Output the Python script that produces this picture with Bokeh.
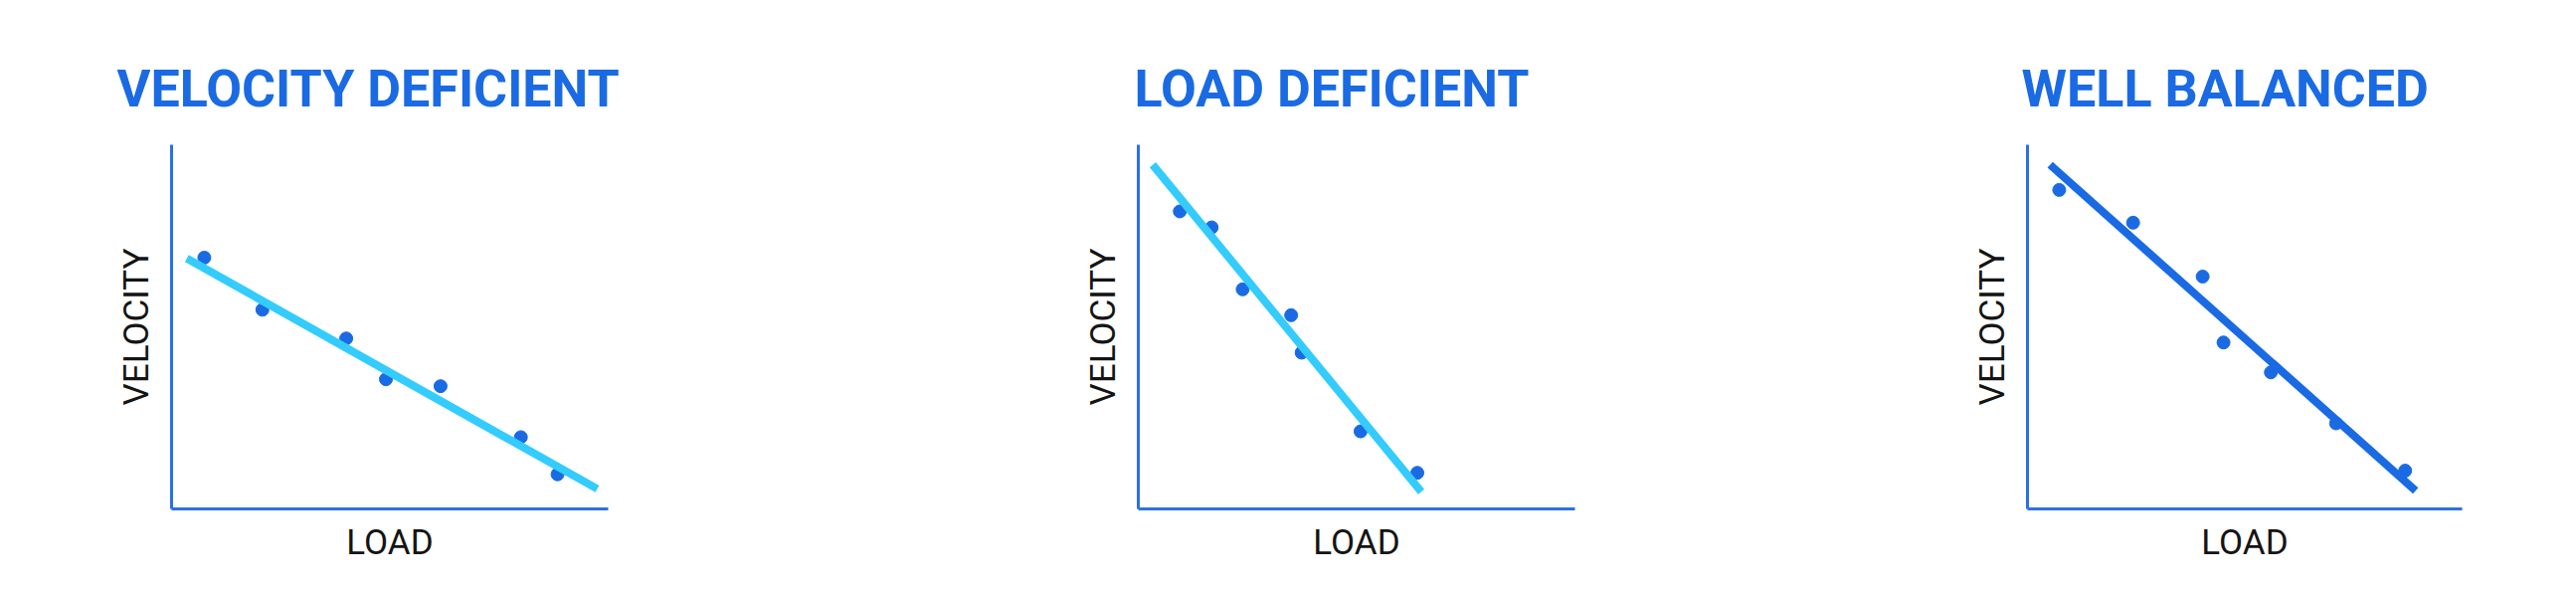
from bokeh.plotting import figure
from bokeh.layouts import row
from bokeh.models import Range1d, FixedTicker
from bokeh.embed import file_html
from bokeh.resources import INLINE

# ---- data ----
titles = ["VELOCITY DEFICIENT", "LOAD DEFICIENT", "WELL BALANCED"]
x_label = "LOAD"
y_label = "VELOCITY"

vd_load = [0.75, 2.08, 4.00, 4.91, 6.16, 8.00, 8.84]
vd_vel = [6.90, 5.47, 4.68, 3.56, 3.37, 1.97, 0.95]
vd_fit_load = [0.35, 9.75]
vd_fit_vel = [6.88, 0.55]

ld_load = [0.95, 1.68, 2.39, 3.50, 3.74, 5.09, 6.39]
ld_vel = [8.17, 7.73, 6.03, 5.32, 4.29, 2.13, 0.99]
ld_fit_load = [0.33, 6.48]
ld_fit_vel = [9.45, 0.47]

wb_load = [0.73, 2.43, 4.03, 4.51, 5.60, 7.10, 8.69]
wb_vel = [8.76, 7.86, 6.38, 4.57, 3.75, 2.35, 1.05]
wb_fit_load = [0.52, 8.93]
wb_fit_vel = [9.45, 0.50]

# ---- styles ----
BLUE = "#1a6ae4"
CYAN = "#33ccfd"
AXIS = "#2a70e6"
TEXT = "#141414"

TOP = 145
FRAME_H = 366
BOTTOM = 78


def panel(title, xs, ys, fx, fy, fit_color, fw, left, right, title_offset):
    p = figure(frame_width=fw, frame_height=FRAME_H, output_backend="svg",
               toolbar_location=None, x_range=Range1d(0, 10),
               y_range=Range1d(0, 10), min_border_left=left,
               min_border_right=right, min_border_top=TOP,
               min_border_bottom=BOTTOM, background_fill_color="white",
               border_fill_color="white")
    p.outline_line_color = None
    p.grid.visible = False
    p.title.text = title
    p.title.text_font = "Roboto"
    p.title.text_font_style = "bold"
    p.title.text_font_size = "52px"
    p.title.text_color = BLUE
    p.title.align = "left"
    p.title.offset = title_offset
    p.title.standoff = 52
    for ax, lab, so in ((p.xaxis[0], x_label, 13), (p.yaxis[0], y_label, 15)):
        ax.ticker = FixedTicker(ticks=[])
        ax.major_tick_line_color = None
        ax.minor_tick_line_color = None
        ax.major_tick_out = 0
        ax.major_tick_in = 0
        ax.minor_tick_out = 0
        ax.minor_tick_in = 0
        ax.major_label_standoff = 0
        ax.major_label_text_font_size = "0px"
        ax.axis_line_color = AXIS
        ax.axis_line_width = 3
        ax.axis_label = lab
        ax.axis_label_text_font = "Roboto"
        ax.axis_label_text_font_style = "normal"
        ax.axis_label_text_font_size = "35px"
        ax.axis_label_text_color = TEXT
        ax.axis_label_standoff = so
    p.scatter(xs, ys, size=13, color=BLUE)
    p.line(fx, fy, line_width=8, line_color=fit_color, line_cap="butt")
    return p


p1 = panel(titles[0], vd_load, vd_vel, vd_fit_load, vd_fit_vel, CYAN,
           439, 172, 389, -55)
p2 = panel(titles[1], ld_load, ld_vel, ld_fit_load, ld_fit_vel, CYAN,
           439, 144, 367, -4)
p3 = panel(titles[2], wb_load, wb_vel, wb_fit_load, wb_fit_vel, BLUE,
           437, 88, 99, -6)

layout = row(p1, p2, p3)
open("out.html", "w").write(file_html(layout, INLINE))
